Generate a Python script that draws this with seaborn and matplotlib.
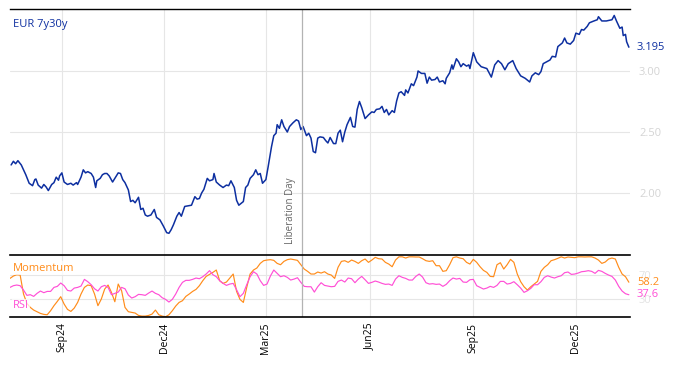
import pandas as pd
import seaborn as sns
import matplotlib.pyplot as plt
import matplotlib.dates as mdates
from matplotlib.ticker import FormatStrFormatter

start = pd.Timestamp('2024-07-17')
lib_day = pd.Timestamp('2025-04-02')

# EUR 7y30y curve, days after start
rate_days = [1, 3, 5, 7, 10, 12, 14, 17, 20, 22, 23, 25, 28, 30, 32, 34, 37, 39, 41, 43,
             44, 46, 48, 51, 54, 56, 59, 60, 63, 65, 67, 69, 72, 74, 76, 77, 80, 82, 84, 86,
             88, 91, 93, 96, 98, 100, 102, 105, 107, 109, 111, 114, 116, 118, 120, 122, 125, 128, 130, 133,
             136, 139, 141, 143, 145, 148, 150, 152, 155, 158, 161, 164, 166, 168, 170, 172, 175, 177, 180, 181,
             183, 186, 189, 192, 194, 196, 199, 201, 203, 207, 209, 211, 213, 216, 218, 220, 222, 224, 227, 229,
             232, 234, 236, 237, 239, 241, 243, 246, 248, 251, 254, 256, 258, 260, 263, 265, 267, 269, 271, 273,
             275, 278, 280, 282, 284, 287, 289, 291, 293, 295, 297, 299, 302, 304, 306, 308, 310, 312, 315, 318,
             321, 323, 325, 328, 330, 332, 334, 336, 339, 341, 343, 345, 347, 350, 351, 353, 356, 358, 361, 362,
             365, 368, 370, 372, 374, 377, 379, 381, 384, 386, 387, 390, 392, 393, 396, 398, 400, 402, 405, 407,
             408, 411, 414, 418, 423, 427, 430, 433, 436, 439, 442, 446, 449, 453, 457, 461, 463, 466, 469, 471,
             473, 476, 479, 481, 484, 486, 490, 492, 494, 497, 500, 502, 505, 507, 509, 512, 514, 518, 521, 522,
             525, 529, 534, 536, 538, 541, 543, 544, 546, 547, 549]
rate = [2.23, 2.26, 2.24, 2.265, 2.23, 2.19, 2.15, 2.08, 2.06, 2.11, 2.115, 2.065, 2.04, 2.07, 2.05, 2.02, 2.07, 2.085, 2.13, 2.105,
        2.14, 2.165, 2.09, 2.07, 2.08, 2.065, 2.085, 2.07, 2.13, 2.19, 2.165, 2.175, 2.16, 2.13, 2.045, 2.10, 2.12, 2.15, 2.16, 2.16,
        2.14, 2.09, 2.12, 2.165, 2.16, 2.11, 2.085, 2.025, 1.93, 1.94, 1.92, 1.965, 1.865, 1.875, 1.82, 1.81, 1.82, 1.865, 1.80, 1.78,
        1.73, 1.675, 1.67, 1.70, 1.74, 1.81, 1.84, 1.81, 1.89, 1.895, 1.90, 1.97, 1.95, 1.955, 2.00, 2.03, 2.12, 2.10, 2.11, 2.16,
        2.09, 2.065, 2.045, 2.065, 2.06, 2.10, 2.045, 1.94, 1.90, 1.93, 2.045, 2.065, 2.12, 2.15, 2.19, 2.15, 2.16, 2.08, 2.11, 2.215,
        2.38, 2.47, 2.49, 2.56, 2.53, 2.60, 2.545, 2.50, 2.545, 2.575, 2.60, 2.59, 2.52, 2.545, 2.47, 2.49, 2.45, 2.34, 2.33, 2.45,
        2.46, 2.455, 2.43, 2.41, 2.455, 2.405, 2.405, 2.49, 2.515, 2.42, 2.50, 2.56, 2.62, 2.545, 2.54, 2.685, 2.75, 2.70, 2.61, 2.64,
        2.665, 2.66, 2.685, 2.69, 2.71, 2.66, 2.685, 2.64, 2.675, 2.66, 2.755, 2.82, 2.83, 2.80, 2.845, 2.82, 2.895, 2.88, 2.95, 3.00,
        2.98, 2.98, 2.90, 2.95, 2.925, 2.93, 2.95, 2.91, 2.92, 2.895, 2.94, 2.985, 3.05, 3.015, 3.10, 3.075, 3.035, 3.06, 3.04, 3.05,
        3.02, 3.15, 3.075, 3.035, 3.02, 2.95, 3.05, 3.085, 3.06, 3.01, 3.06, 3.085, 3.02, 2.96, 2.94, 2.91, 2.96, 2.985, 2.97, 2.995,
        3.06, 3.075, 3.09, 3.12, 3.115, 3.20, 3.23, 3.27, 3.23, 3.22, 3.25, 3.31, 3.30, 3.34, 3.335, 3.365, 3.395, 3.41, 3.42, 3.445,
        3.41, 3.41, 3.42, 3.455, 3.41, 3.35, 3.36, 3.29, 3.30, 3.24, 3.195]

# oscillators, one value every 3 days from start
momentum = [64.5, 68.4, 70.6, 70.0, 38.8, 23.4, 16.8, 12.4, 9.7, 6.9, 5.3, 4.7, 11.3, 19.6, 26.7, 34.4, 22.3, 13.5, 10.2, 15.7,
            25.0, 38.8, 49.7, 53.6, 52.5, 38.8, 19.6, 30.5, 47.0, 53.6, 41.5, 26.1, 55.2, 44.2, 16.8, 9.7, 8.6, 7.5, 3.6, 2.5,
            2.5, 3.6, 5.8, 12.4, 4.7, 2.5, 1.4, 4.7, 11.3, 19.0, 25.0, 27.8, 34.9, 38.8, 43.1, 46.4, 52.5, 60.7, 67.8, 71.1,
            74.4, 78.3, 60.7, 56.3, 58.5, 65.1, 71.7, 43.1, 30.0, 25.0, 49.7, 71.7, 78.3, 81.6, 89.2, 93.6, 94.7, 95.3, 94.2, 89.2,
            87.0, 92.5, 95.3, 96.4, 95.3, 94.2, 87.0, 79.9, 76.1, 71.7, 71.7, 75.0, 73.3, 75.5, 71.7, 70.0, 64.5, 82.7, 92.5, 93.6,
            90.9, 94.7, 92.5, 89.2, 93.6, 96.4, 90.9, 94.7, 99.1, 96.9, 96.4, 90.9, 88.1, 83.7, 94.7, 100.0, 100.0, 98.0, 100.0, 100.0,
            99.7, 99.7, 96.9, 93.6, 92.5, 93.6, 85.4, 85.4, 76.1, 77.2, 87.0, 98.6, 100.0, 98.0, 96.9, 90.9, 88.1, 95.8, 90.9, 83.7,
            77.7, 74.4, 67.8, 67.3, 87.0, 90.3, 79.9, 87.0, 95.8, 90.9, 71.7, 59.1, 50.8, 45.3, 50.8, 55.2, 59.6, 76.1, 82.7, 87.0,
            93.6, 95.3, 97.5, 100.0, 98.0, 99.7, 99.1, 98.6, 100.0, 100.0, 99.7, 100.0, 100.0, 98.0, 94.7, 89.2, 91.4, 96.4, 98.0, 96.4,
            82.7, 71.7, 67.3, 58.2]
rsi = [49.7, 52.5, 53.6, 52.5, 45.3, 36.6, 37.7, 34.9, 39.9, 43.7, 41.0, 43.1, 43.1, 49.7, 51.4, 56.9, 52.5, 44.8, 43.7, 48.6,
       49.7, 51.9, 62.9, 59.1, 54.1, 47.5, 43.7, 50.8, 53.0, 49.7, 37.7, 39.9, 42.0, 49.7, 47.5, 37.1, 32.2, 34.4, 38.2, 37.7,
       36.6, 40.4, 43.7, 39.9, 37.7, 32.7, 30.0, 25.6, 30.0, 38.8, 49.7, 58.0, 61.3, 61.3, 62.9, 65.1, 64.0, 67.3, 71.7, 77.2,
       70.6, 67.3, 60.7, 56.3, 53.0, 55.2, 56.3, 45.9, 34.4, 39.9, 54.1, 67.3, 75.5, 71.7, 60.7, 53.0, 55.2, 68.4, 78.3, 72.8,
       67.3, 68.9, 66.2, 61.8, 63.4, 65.6, 58.0, 51.4, 50.8, 50.8, 42.0, 50.8, 57.4, 53.0, 51.9, 50.8, 51.4, 59.6, 61.8, 58.5,
       65.1, 64.0, 57.4, 63.4, 67.8, 62.3, 56.3, 58.0, 60.2, 58.5, 56.3, 54.7, 55.2, 53.0, 63.4, 68.9, 66.2, 64.5, 61.8, 61.8,
       67.8, 71.7, 66.7, 57.4, 55.2, 55.8, 54.7, 55.2, 51.4, 54.7, 60.7, 65.1, 63.4, 64.5, 58.5, 58.0, 62.3, 62.9, 52.5, 49.7,
       47.0, 48.6, 51.4, 49.7, 53.0, 59.6, 59.6, 55.2, 56.3, 59.1, 54.1, 48.6, 41.5, 44.2, 48.1, 54.1, 54.1, 59.1, 66.2, 68.9,
       66.7, 65.1, 67.3, 68.9, 73.9, 75.0, 71.1, 71.7, 73.3, 75.5, 76.1, 77.2, 76.1, 72.8, 77.7, 76.1, 72.8, 70.0, 67.8, 61.8,
       51.4, 43.7, 39.3, 37.6]

blue = '#0d2fa0'
orange = '#ff8c1a'
pink = '#ff4fd6'

main = pd.DataFrame({'date': start + pd.to_timedelta(rate_days, unit='D'), 'rate': rate})
osc = pd.DataFrame({'date': pd.date_range(start, periods=len(momentum), freq='3D'),
                    'Momentum': momentum, 'RSI': rsi})

sns.set_style('white')
plt.rcParams['font.family'] = ['Open Sans', 'DejaVu Sans']

fig = plt.figure(figsize=(6.74, 3.66), dpi=100)
ax = fig.add_axes([10 / 674, 1 - 255 / 366, 620 / 674, 246 / 366])
ax2 = fig.add_axes([10 / 674, 1 - 317 / 366, 620 / 674, 62 / 366], sharex=ax)

sns.lineplot(data=main, x='date', y='rate', color=blue, lw=1.1, ax=ax)
sns.lineplot(data=osc, x='date', y='Momentum', color=orange, lw=0.85, ax=ax2)
sns.lineplot(data=osc, x='date', y='RSI', color=pink, lw=0.85, ax=ax2)

ax.set_xlim(start, start + pd.Timedelta(days=550))
ax.set_ylim(1.492, 3.508)
ax2.set_ylim(1, 103)

for a in (ax, ax2):
    a.set_xlabel('')
    a.set_ylabel('')
    a.grid(True, color='#e6e6e6', lw=0.8)
    a.set_axisbelow(True)
    for s in a.spines.values():
        s.set_visible(False)
    a.axvline(lib_day, color='#b3b3b3', lw=0.9)
    a.yaxis.tick_right()
    a.tick_params(axis='y', right=False, left=False, labelsize=8, pad=3)
    a.xaxis.set_major_locator(mdates.MonthLocator(bymonth=[3, 6, 9, 12]))
    a.xaxis.set_major_formatter(mdates.DateFormatter('%b%y'))

ax.spines['top'].set_visible(True)
ax.spines['top'].set_color('black')
ax.spines['top'].set_linewidth(1.0)
ax.set_yticks([2.0, 2.5, 3.0])
ax.yaxis.set_major_formatter(FormatStrFormatter('%.2f'))
ax.tick_params(axis='y', labelcolor='#d4d4d4')
ax.tick_params(axis='x', direction='in', length=4, width=1, color='black', labelbottom=False)

for side in ('top', 'bottom'):
    ax2.spines[side].set_visible(True)
    ax2.spines[side].set_color('black')
    ax2.spines[side].set_linewidth(1.2)
ax2.set_yticks([30, 70])
ax2.tick_params(axis='y', labelcolor='#e3e3e3')
ax2.tick_params(axis='x', direction='in', length=4, width=1, color='black', labelcolor='black',
                labelsize=7.5, labelrotation=90, pad=4)

ax.text(0.005, 0.935, 'EUR 7y30y', transform=ax.transAxes, color=blue, fontsize=8, va='center')
ax.annotate(f'{rate[-1]:.3f}', xy=(1, rate[-1]), xycoords=('axes fraction', 'data'),
            xytext=(5, 0), textcoords='offset points', color=blue, fontsize=8, va='center')
ax.annotate('Liberation Day', xy=(lib_day, 0), xycoords=('data', 'axes fraction'),
            xytext=(-8.5, 8), textcoords='offset points', rotation=90, ha='center', va='bottom',
            color='#666666', fontsize=7)

box = dict(facecolor='white', alpha=0.75, edgecolor='none', pad=1)
ax2.text(0.005, 0.79, 'Momentum', transform=ax2.transAxes, color=orange, fontsize=8, va='center', bbox=box)
ax2.text(0.005, 0.18, 'RSI', transform=ax2.transAxes, color=pink, fontsize=8, va='center', bbox=box)
ax2.annotate(f'{momentum[-1]:.1f}', xy=(1, momentum[-1]), xycoords=('axes fraction', 'data'),
             xytext=(5, 0), textcoords='offset points', color=orange, fontsize=8, va='center')
ax2.annotate(f'{rsi[-1]:.1f}', xy=(1, rsi[-1]), xycoords=('axes fraction', 'data'),
             xytext=(5, 0), textcoords='offset points', color=pink, fontsize=8, va='center')

fig.savefig('out.png', dpi=100)
